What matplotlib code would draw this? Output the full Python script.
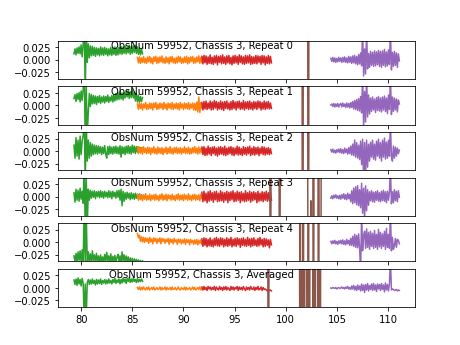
import numpy as np
import matplotlib.pyplot as plt

# segment ranges (GHz)
green_rng = (79.3, 86.0)
orange_rng = (85.5, 92.0)
red_rng = (91.8, 98.6)
purple_rng = (104.4, 111.1)

titles = ["ObsNum 59952, Chassis 3, Repeat 0",
          "ObsNum 59952, Chassis 3, Repeat 1",
          "ObsNum 59952, Chassis 3, Repeat 2",
          "ObsNum 59952, Chassis 3, Repeat 3",
          "ObsNum 59952, Chassis 3, Repeat 4",
          "ObsNum 59952, Chassis 3, Averaged"]

# values in units of 1e-3
green = [
    [12, 22, 10, 24, 13, 26, 12, 30, 6, 32, 70, -70, 60, -5, 32, 4, 28, 8, 27, 9, 25, 7, 24, 10, 23, 8, 26, 10, 24, 9,
     25, 11, 23, 8, 22, 10, 25, 9, 24, 11, 26, 9, 23, 10, 25, 12, 27, 11, 26, 13, 28, 12, 26, 14, 29, 11, 27, 13, 28, 15,
     29, 13, 26, 11, 24, 10, 22, 12],
    [14, 22, 8, 24, 12, 26, 7, 29, 10, 33, 70, -70, 40, -60, -14, 24, -2, 22, 3, 20, 4, 19, 2, 18, 6, 20, 4, 17, 7, 19,
     5, 18, 8, 21, 6, 17, 9, 20, 7, 22, 9, 24, 11, 26, 12, 28, 13, 25, 11, 26, 15, 29, 17, 30, 14, 28, 16, 31, 15, 27,
     9, 24, 7, 21, 6, 18, 8, 16],
    [12, -14, 27, -10, 22, -16, 30, -7, 20, 32, 70, -70, 60, -20, 22, -14, 17, -10, 14, -7, 12, -5, 11, -6, 10, -4, 9, -7,
     8, -5, 11, -6, -14, 9, -7, 10, -5, 8, -6, 9, -4, 10, -5, 8, -6, 11, -12, 9, -5, 8, -7, 10, -4, 11, -5, 9, -6, 12, -3,
     10, -5, 9, -2, 8, -1, 7, 0, 6],
    [8, -11, 15, -7, 13, -9, 17, -5, 11, -13, 70, -70, 40, -60, 15, -7, 13, -3, 11, -1, 12, -4, 10, 0, 11, -2, 12, -1, 10,
     -3, 11, 0, 9, -2, 12, -1, 10, -4, 11, 0, 9, -3, 12, -1, 13, -7, 15, -18, 11, -9, 8, -5, 9, -3, 7, -6, 8, -4, 6, -5,
     7, -3, 5, -4, 6, -3, 4, -2],
    [-27, -38, -22, -40, -19, -36, -17, -40, -15, -37, 70, -45, 60, -42, -19, -38, -23, -42, -17, -36, -25, -40, -22, -38,
     -27, -42, -25, -39, -29, -41, -24, -38, -20, -37, -27, -40, -23, -42, -28, -38, -26, -41, -30, -24, -39, -27, -42, -19,
     -37, -25, -40, -27, -38, -29, -42, -31, -40, -32, -43, -33, -42, -34, -44, -35, -42, -36, -43, -37],
    [16, 7, 18, 5, 20, 8, 17, 4, 19, 9, -60, 8, -60, 11, 17, 7, 16, 8, 18, 9, 15, 6, 17, 8, 16, 9, 18, 7, 15, 10,
     17, 8, 16, 9, 18, 10, 15, 8, 17, 11, 19, 9, 16, 11, 18, 8, 17, 10, 20, 12, 18, 9, 19, 13, 21, 11, 18, 12, 20, 13,
     17, 11, 19, 12, 17, 13, 18, 13],
]

orange = [
    [5, -6, 6, -7, 4, -5, 7, -6, 3, -7, 6, -4, 7, -6, 4, -8, 6, -3, 7, -7, 5, -6, 6, -4, 8, -6, 3, -7, 6, -5, 4, -8, 6,
     -4, 7, -6, 3, -7, 5, -6, 7, -4, 6, -7, 3, -6, 6, -5, 7, -8, 5, -6, 6, -3, 7, -7, 4, -6, 6, -4, 8, -7, 5, -6, 6, -3],
    [3, -8, 5, -6, 4, -9, 3, -5, 6, -8, 2, -7, 5, -6, 4, -9, 5, -4, 6, -8, 3, -7, 5, -5, 4, -8, 6, -6, 3, -9, 5, -5, 4,
     -7, 6, -8, 3, -6, 5, -7, 4, -9, 6, -5, 3, -8, 5, -6, 4, -7, 6, -8, 3, -5, 5, -9, 4, -10, 7, -13, 17, -14, 6, -6, 4, -5],
    [9, -5, 8, -4, 7, -6, 9, -3, 6, -5, 8, -4, 7, -7, 6, -3, 9, -5, 5, -6, 8, -4, 6, -5, 7, -7, 5, -3, 8, -6, 6, -4, 9,
     -5, 5, -6, 7, -3, 8, -5, 6, -4, 7, -6, 5, -3, 9, -5, 6, -4, 8, -6, 5, -5, 7, -3, 9, -4, 6, -6, 8, -4, 6, -3, 7, -5],
    [4, -7, 5, -6, 3, -8, 4, -5, 6, -7, 2, -6, 5, -8, 3, -5, 4, -7, 5, -6, 2, -8, 4, -5, 6, -7, 3, -6, 5, -8, 4, -4, 3,
     -7, 5, -6, 2, -8, 4, -5, 6, -7, 3, -6, 4, -8, 5, -5, 3, -7, 6, -6, 2, -8, 4, -5, 5, -7, 3, -6, 4, -8, 5, -4, 3, -6],
    [18, 9, 14, 2, 11, 1, 10, 0, 9, 2, 8, -2, 10, 1, 7, -3, 9, 2, 8, -2, 7, 1, 9, -3, 8, 2, 7, -2, 6, 1, 8, -4, 7, 0,
     6, -3, 8, 1, 5, -4, 7, 0, 6, -3, 5, -1, 7, -4, 6, 0, 5, -5, 6, -1, 4, -4, 5, -3, 6, -5, 4, -2, 5, -4, 3, -3],
    [1, -3, 2, -4, 1, -3, 2, -2, -4, 1, -3, 2, -4, -2, 1, -3, 2, -4, -2, 1, -3, -2, 2, -4, 1, -3, -2, 2, -4, 1, -3, -2,
     1, -4, 2, -3, -2, 1, -4, -2, 2, -3, -4, 1, -2, -3, 2, -4, 1, -3, -2, 1, -4, -2, 2, -3, 1, -4, -2, 1, -3, 2, -4, -2,
     1, -3],
]

red = [
    [7, -8, 9, -6, 8, -9, 6, -7, 10, -8, 5, -9, 8, -6, 9, -10, 7, -5, 8, -8, 10, -7, 6, -9, 8, -6, 9, -8, 5, -10, 8, -7,
     9, -6, 7, -9, 10, -5, 8, -8, 6, -9, 9, -7, 8, -6, 10, -9, 7, -8, 6, -7, 9, -8, 8, -5, 7, -9, 9, -6, 8, -10, 6, -7,
     9, -8, 7, -6],
    [6, -9, 8, -7, 9, -8, 5, -6, 9, -9, 7, -8, 10, -5, 8, -9, 6, -7, 9, -8, 7, -10, 8, -6, 9, -7, 5, -9, 8, -8, 10, -6,
     7, -9, 8, -5, 9, -8, 6, -7, 10, -9, 7, -6, 8, -8, 9, -7, 6, -9, 8, -6, 7, -8, 9, -5, 8, -9, 6, -7, 9, -8, 7, -6, 8,
     -7, 5, -6],
    [8, -7, 9, -9, 6, -8, 10, -6, 7, -9, 8, -5, 9, -8, 6, -10, 8, -7, 9, -6, 7, -8, 10, -9, 6, -7, 8, -5, 9, -8, 7, -9,
     6, -6, 10, -8, 8, -7, 5, -9, 9, -6, 7, -8, 8, -5, 10, -9, 6, -7, 9, -8, 7, -6, 8, -9, 6, -5, 9, -7, 8, -8, 6, -6, 7,
     -7, 5, -5],
    [9, -10, 11, -8, 7, -12, 10, -9, 12, -7, 8, -11, 10, -6, 11, -10, 7, -9, 12, -8, 9, -11, 8, -7, 11, -12, 9, -8, 10,
     -6, 12, -10, 8, -9, 11, -7, 9, -12, 10, -8, 7, -10, 12, -9, 8, -7, 11, -11, 9, -8, 10, -6, 8, -12, 11, -9, 7, -8,
     10, -10, 9, -7, 11, -9, 8, -8, 10, -7],
    [7, -8, 9, -6, 8, -9, 6, -7, 9, -8, 5, -9, 8, -6, 10, -7, 7, -8, 9, -5, 8, -9, 6, -7, 9, -8, 7, -6, 10, -9, 6, -7, 8,
     -8, 9, -5, 7, -10, 8, -6, 9, -7, 6, -8, 10, -6, 7, -9, 8, -7, 9, -6, 5, -8, 8, -7, 10, -5, 6, -9, 8, -8, 7, -6, 5,
     -11, 6, -5],
    [2, -4, 3, -3, 1, -5, 3, -2, 2, -4, 1, -3, 3, -5, 2, -2, -4, 3, -3, 1, -5, 2, -3, 3, -4, 1, -2, -5, 3, -3, 2, -4, 1,
     -2, 3, -5, 2, -3, 1, -4, 3, -2, -5, 2, -3, 1, -4, 3, -2, -3, 2, -5, 1, -3, 3, -4, -2, 2, -5, 1, -3, -2, -4, -6, -3,
     -5, -4, -6],
]

purple = [
    [3, -3, 5, -4, 4, -5, 3, -4, 5, -3, 4, -5, 5, -4, 6, -5, 4, -6, 7, -5, 6, -7, 8, -6, 9, -8, 7, -10, 11, -8,
     14, -12, 60, -32, 22, -28, 60, -18, 13, -15, 17, -11, 15, -13, 18, -12, 16, -10, 19, -13, 17, -15, 18, -11, 21, -14,
     16, -12, 20, -9, 60, -20, 15, -13, 17, -11, 14, -15, 12, -2],
    [1, 3, -2, 4, -3, 3, -2, 4, -3, 2, 4, -3, 5, -2, 3, -4, 5, -3, 4, -5, 6, -4, 8, -7, 10, -8, 12, -10, 14, -11,
     18, -15, 60, -42, 28, -33, 60, -23, 21, -17, 15, -12, 17, -9, 13, -14, 16, -10, 18, -11, 15, -13, 17, -9, 19, -12,
     15, -16, 21, -8, 60, -18, 17, -12, 15, -9, 13, -13, 11, 3],
    [3, -2, 4, -3, 2, -4, 3, -2, 4, -3, 5, -4, 3, -5, 6, -3, 4, -6, 7, -5, 10, -8, 14, -9, 22, -12, 17, -14, 12, -17,
     20, -27, 24, -60, 17, -47, 22, -32, 14, -20, 18, -12, 22, -16, 14, -18, 20, -10, 24, -14, 17, -20, 22, -12, 26, -16,
     18, -14, 22, -10, 60, -12, -20, 10, -14, 8, -10, 6, -5, 2],
    [-3, 2, -4, 3, -2, 4, -3, 2, -4, 3, -5, 4, -3, 6, -5, 4, -6, 7, -4, 5, -10, 12, -14, 17, -12, 20, -16, 22, -18, 14,
     -22, 27, -33, 17, -45, 22, -28, 14, -17, 10, -8, 12, -10, 9, -11, 10, -7, 12, -9, 8, -10, 11, -8, 13, -9, 10, -12,
     11, -7, 9, 60, -14, 10, -12, 14, -8, 11, -10, 12, -1],
    [2, -3, 3, -2, 4, -3, 2, -4, 3, -2, 4, -3, 5, -4, 3, -5, 6, -3, 4, -6, 8, -6, 12, -8, 16, -10, 14, -11, 17, -12,
     -60, 60, -17, 14, 22, -12, 27, -10, 20, -14, 22, -8, 18, -12, 24, -10, 16, -14, 26, -9, 20, -12, 17, -8, 22, -14,
     28, -10, 16, -12, 60, -17, 10, -14, -7, 8, -10, 6, 4, -3],
    [0, -1, 1, 0, -1, 1, -2, 0, 1, -1, 0, 2, -1, 1, -2, 2, -1, 3, -2, 1, -3, 4, -2, 5, -4, 3, -5, 6, -3, 4,
     -6, 8, -5, 6, -9, 7, -4, 9, -6, 5, -3, 8, -5, 9, -4, 6, -7, 8, -2, 7, -5, 9, -3, 6, -8, 10, -4, 7, -6, 8,
     60, -4, -2, -3, -5, -4, -3, -6, -4, -5],
]

# brown segment sits mostly off scale; only its jumps across the band show up
brown_x = [
    [98.6, 102.1, 102.2, 102.3, 104.3],
    [98.6, 101.55, 101.65, 101.75, 102.1, 102.2, 102.3, 104.3],
    [98.6, 101.55, 101.65, 101.75, 102.1, 102.2, 102.3, 104.3],
    [98.4, 98.5, 98.6, 99.3, 99.4, 99.5, 102.1, 102.2, 102.4, 102.45, 102.5, 102.6, 102.7, 102.8, 103.1, 103.2,
     103.3, 103.4, 103.5, 104.3],
    [98.6, 101.32, 101.4, 101.48, 101.62, 101.7, 101.78, 102.12, 102.2, 102.28, 102.62, 102.7, 102.78, 103.12, 103.2,
     103.28, 104.3],
    [98.2, 98.3, 98.4, 101.3, 101.4, 101.5, 101.6, 101.7, 101.8, 101.9, 102.0, 102.1, 102.2, 102.3, 102.4,
     102.6, 102.68, 102.76, 102.84, 102.92, 103.05, 103.15, 103.25, 103.35, 103.45, 104.3],
]
brown_y = [
    [500, 500, -500, 500, 500],
    [500, 500, -500, 500, 500, -500, 500, 500],
    [500, 500, -500, 500, 500, -500, 500, 500],
    [500, -500, 500, 500, -500, 500, 500, -500, -500, -8, -500, -500, 500, -500, -500, 500, -500, -500, 500, 500],
    [500, 500, -500, 500, 500, -500, 500, 500, -500, 500, 500, -500, 500, 500, -500, 500, 500],
    [500, -500, 500, 500, -500, 500, -500, 500, -500, 500, 500, -500, 500, -500, 500,
     500, -500, 500, -500, 500, 500, -500, 500, -500, 500, 500],
]

fig, axs = plt.subplots(6, 1, sharex=True, figsize=(6.4, 4.8), dpi=72)

for i, ax in enumerate(axs):
    for vals, rng, col in [(green[i], green_rng, "tab:green"),
                           (orange[i], orange_rng, "tab:orange"),
                           (red[i], red_rng, "tab:red")]:
        x = np.linspace(rng[0], rng[1], len(vals))
        ax.plot(x, np.array(vals) / 1000, color=col)
    ax.plot(brown_x[i], np.array(brown_y[i]) / 1000, color="tab:brown")
    x = np.linspace(purple_rng[0], purple_rng[1], len(purple[i]))
    ax.plot(x, np.array(purple[i]) / 1000, color="tab:purple")
    ax.set_ylim(-0.038, 0.038)
    ax.text(0.403, 1.0, titles[i], transform=ax.transAxes, ha="center", va="top")

axs[0].set_xlim(77.7, 112.6)

plt.savefig("out.png")
